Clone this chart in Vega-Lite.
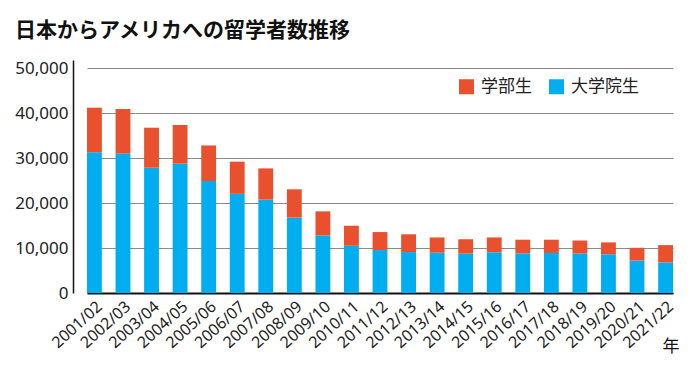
{
  "$schema": "https://vega.github.io/schema/vega-lite/v6.json",
  "autosize": "none",
  "width": 606,
  "height": 233,
  "padding": {"left": 73, "top": 60, "right": 21, "bottom": 85},
  "background": "white",
  "title": {
    "text": "日本からアメリカへの留学者数推移",
    "font": "Noto Sans CJK JP",
    "fontSize": 21,
    "fontWeight": "bold",
    "color": "#111111",
    "anchor": "start",
    "frame": "group",
    "dx": -58,
    "offset": 18
  },
  "config": {
    "view": {"stroke": null},
    "font": "Noto Sans"
  },
  "data": {
    "values": [
      {"year": "2001/02", "type": "大学院生", "value": 31300},
      {"year": "2001/02", "type": "学部生", "value": 9900},
      {"year": "2002/03", "type": "大学院生", "value": 31000},
      {"year": "2002/03", "type": "学部生", "value": 9900},
      {"year": "2003/04", "type": "大学院生", "value": 27850},
      {"year": "2003/04", "type": "学部生", "value": 8900},
      {"year": "2004/05", "type": "大学院生", "value": 28750},
      {"year": "2004/05", "type": "学部生", "value": 8600},
      {"year": "2005/06", "type": "大学院生", "value": 24900},
      {"year": "2005/06", "type": "学部生", "value": 7900},
      {"year": "2006/07", "type": "大学院生", "value": 22050},
      {"year": "2006/07", "type": "学部生", "value": 7150},
      {"year": "2007/08", "type": "大学院生", "value": 20750},
      {"year": "2007/08", "type": "学部生", "value": 6950},
      {"year": "2008/09", "type": "大学院生", "value": 16750},
      {"year": "2008/09", "type": "学部生", "value": 6300},
      {"year": "2009/10", "type": "大学院生", "value": 12800},
      {"year": "2009/10", "type": "学部生", "value": 5350},
      {"year": "2010/11", "type": "大学院生", "value": 10500},
      {"year": "2010/11", "type": "学部生", "value": 4450},
      {"year": "2011/12", "type": "大学院生", "value": 9550},
      {"year": "2011/12", "type": "学部生", "value": 4000},
      {"year": "2012/13", "type": "大学院生", "value": 9100},
      {"year": "2012/13", "type": "学部生", "value": 3950},
      {"year": "2013/14", "type": "大学院生", "value": 8950},
      {"year": "2013/14", "type": "学部生", "value": 3400},
      {"year": "2014/15", "type": "大学院生", "value": 8750},
      {"year": "2014/15", "type": "学部生", "value": 3200},
      {"year": "2015/16", "type": "大学院生", "value": 9050},
      {"year": "2015/16", "type": "学部生", "value": 3300},
      {"year": "2016/17", "type": "大学院生", "value": 8800},
      {"year": "2016/17", "type": "学部生", "value": 3050},
      {"year": "2017/18", "type": "大学院生", "value": 8900},
      {"year": "2017/18", "type": "学部生", "value": 2950},
      {"year": "2018/19", "type": "大学院生", "value": 8800},
      {"year": "2018/19", "type": "学部生", "value": 2850},
      {"year": "2019/20", "type": "大学院生", "value": 8600},
      {"year": "2019/20", "type": "学部生", "value": 2650},
      {"year": "2020/21", "type": "大学院生", "value": 7200},
      {"year": "2020/21", "type": "学部生", "value": 2850},
      {"year": "2021/22", "type": "大学院生", "value": 6800},
      {"year": "2021/22", "type": "学部生", "value": 3850}
    ]
  },
  "mark": {"type": "bar"},
  "encoding": {
    "x": {
      "field": "year",
      "type": "nominal",
      "sort": null,
      "scale": {"range": [14, 600], "paddingInner": 0.48, "paddingOuter": 0},
      "axis": {
        "title": "年",
        "titleFont": "Noto Sans CJK JP",
        "titleFontSize": 17,
        "titleFontWeight": "normal",
        "titleColor": "#111111",
        "titleAngle": 0,
        "titleAlign": "right",
        "titleBaseline": "middle",
        "titleX": 606,
        "titleY": 53,
        "labelAngle": -42,
        "labelAlign": "right",
        "labelBaseline": "top",
        "labelFontSize": 16,
        "labelColor": "#222222",
        "labelPadding": 5,
        "labelDx": 1,
        "ticks": false,
        "domainColor": "#111111",
        "domainWidth": 2,
        "grid": false
      }
    },
    "y": {
      "field": "value",
      "type": "quantitative",
      "stack": "zero",
      "scale": {"domain": [0, 51800], "nice": false},
      "axis": {
        "title": null,
        "values": [0, 10000, 20000, 30000, 40000, 50000],
        "format": ",.0f",
        "labelFontSize": 17,
        "labelColor": "#222222",
        "labelPadding": 5,
        "ticks": false,
        "domainColor": "#111111",
        "domainWidth": 1.5,
        "grid": true,
        "gridColor": "#8a8a8a",
        "gridWidth": 1
      }
    },
    "color": {
      "field": "type",
      "type": "nominal",
      "scale": {"domain": ["学部生", "大学院生"], "range": ["#E8502E", "#00AEEF"]},
      "legend": {
        "title": null,
        "orient": "none",
        "legendX": 385,
        "legendY": 18,
        "direction": "horizontal",
        "symbolType": "square",
        "symbolSize": 225,
        "symbolStrokeWidth": 0,
        "symbolOpacity": 1,
        "labelFont": "Noto Sans CJK JP",
        "labelFontSize": 17,
        "labelColor": "#222222",
        "labelOffset": 6,
        "columnPadding": 16
      }
    },
    "order": {"field": "type", "sort": "ascending"}
  }
}
